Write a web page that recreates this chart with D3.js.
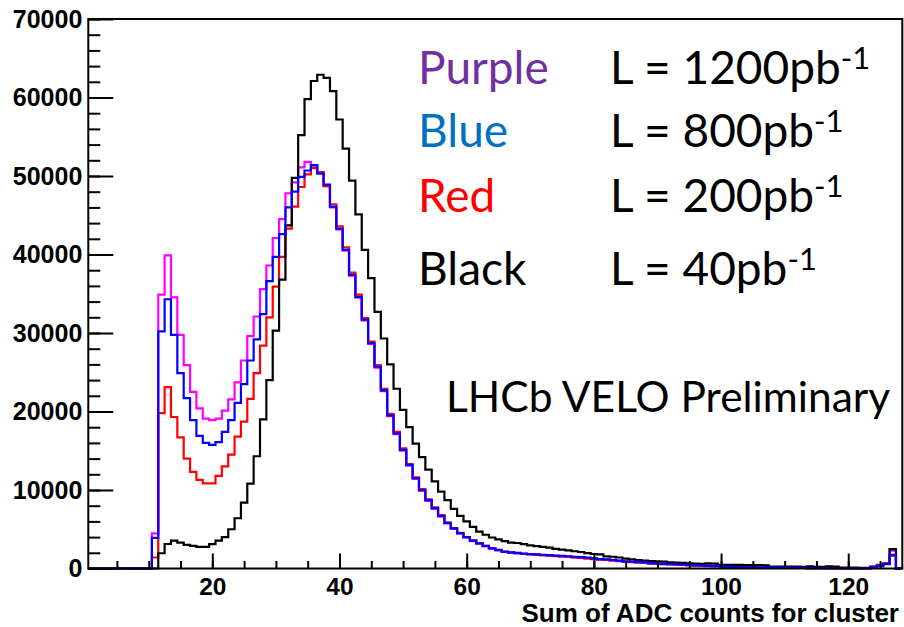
<!DOCTYPE html>
<html>
<head>
<meta charset="utf-8">
<script src="https://cdn.jsdelivr.net/npm/d3@7"></script>
<style>
  body { margin: 0; background: #fff; }
  .tick text { font-family: "Liberation Sans", Arial, sans-serif; font-weight: bold; fill: #000; }
</style>
</head>
<body>
<div id="chart"></div>
<script>
// ADC bins 1..128 (bin k spans k-0.5 .. k+0.5)
const bins = d3.range(1, 129);

const black = [
  0,0,0,0,0,0,0,0,0,0,0,
  1940,3120,3540,3290,3000,2870,2750,2750,3100,
  3540,4000,5000,6400,8400,10800,14300,19000,24000,30300,
  36800,43700,49750,55200,59800,62100,62900,62500,60800,57200,
  53500,49400,45100,40600,37000,32700,29300,26000,22900,20200,
  18000,15900,14200,12600,11100,9800,8700,7600,6700,6000,
  5300,4700,4300,3950,3700,3500,3300,3250,3100,2950,
  2850,2750,2650,2500,2400,2300,2200,2100,1950,1850,
  1800,1550,1500,1400,1250,1150,1080,1000,950,920,
  880,780,740,720,650,620,600,650,620,480,
  470,460,450,440,430,420,410,250,240,240,
  230,230,220,280,220,200,260,250,120,100,
  100,90,90,180,300,550,2480,0
];

const blue = [
  0,0,0,0,0,0,0,0,0,0,
  3900,30200,34300,29750,24900,21700,18900,16900,16000,15750,
  16100,17400,18900,21100,23500,26500,29200,32400,36600,39700,
  42600,46000,48000,49900,50700,51400,50300,48900,46100,43300,
  40600,37400,34600,31700,28700,25700,22700,19500,17200,15100,
  13200,11500,10000,8700,7700,6700,5800,5100,4500,4000,
  3550,3200,2870,2570,2360,2140,2050,1980,1900,1850,
  1800,1750,1700,1650,1600,1560,1500,1450,1400,1300,
  1200,1150,1100,1000,920,880,840,780,680,640,
  600,570,540,500,450,400,380,360,340,320,
  250,180,170,160,160,150,150,140,140,130,
  130,120,120,50,40,40,30,30,30,30,
  20,20,40,200,380,600,1750,0
];

const red = [
  0,0,0,0,0,0,0,0,0,0,
  1400,19800,23100,19300,16700,14000,12300,11300,10850,10850,
  11800,13000,14500,16800,18700,21600,24900,28400,32000,35900,
  39700,43300,46100,48600,50200,51000,50500,48700,46400,43600,
  40900,37700,34900,31900,28900,25900,22900,19700,17400,15300,
  13300,11600,10100,8800,7800,6800,5850,5150,4550,4000,
  3580,3220,2880,2580,2350,2120,2030,1950,1870,1800,
  1750,1700,1650,1600,1550,1500,1420,1380,1300,1220,
  1150,1100,1020,960,880,830,780,720,650,600,
  570,540,500,470,420,380,350,330,300,280,
  220,170,150,140,140,130,130,120,120,110,
  110,100,100,40,30,30,30,20,20,20,
  10,10,20,230,450,660,1600,0
];

const magenta = [
  0,0,0,0,0,0,0,0,0,0,
  4480,34900,39900,34550,29750,25900,22500,20400,19100,18900,
  19100,20100,21550,23700,26500,29600,32100,35600,38600,42100,
  44500,47800,49200,51100,51800,51300,50500,48700,46000,43200,
  40500,37300,34500,31600,28600,25600,22600,19400,17100,15000,
  13100,11400,9900,8600,7600,6600,5750,5050,4450,3950,
  3500,3150,2830,2530,2320,2100,2000,1930,1850,1790,
  1740,1690,1640,1580,1530,1480,1400,1350,1280,1200,
  1130,1080,1000,940,860,810,760,700,630,590,
  550,520,480,450,400,360,330,310,280,260,
  200,150,130,120,120,110,110,100,100,90,
  90,80,80,20,10,10,10,10,10,10,
  10,10,10,200,400,620,2270,0
];

const yMajor = d3.range(0, 70001, 10000);
const yMinor = d3.range(0, 70001, 2000);
const xMajor = [20, 40, 60, 80, 100, 120];
const xMinor = d3.range(5, 128, 5);

const legendNames = ['Purple', 'Blue', 'Red', 'Black'];
const legendLumi = ['L = 1200pb', 'L = 800pb', 'L = 200pb', 'L = 40pb'];
const legendColors = ['#7030a0', '#0070c0', '#ff0000', '#000000'];

const W = 904, H = 627;
const frame = { left: 88.3, right: 902.3, top: 19, bottom: 568.5 };

const svg = d3.select('#chart').append('svg')
  .attr('width', W)
  .attr('height', H);

const x = d3.scaleLinear().domain([0.5, 128.5]).range([frame.left, frame.right]);
const y = d3.scaleLinear().domain([0, 70000]).range([frame.bottom, frame.top]);

// histogram outlines, drawn as steps
const line = d3.line()
  .x(d => x(d[0]))
  .y(d => y(d[1]))
  .curve(d3.curveStepAfter);

function stepPoints(vals) {
  const pts = bins.map((b, i) => [b - 0.5, vals[i]]);
  pts.push([128.5, vals[vals.length - 1]]);
  return pts;
}

const series = [
  { vals: magenta, color: '#ff00ff' },
  { vals: red, color: '#ff0000' },
  { vals: black, color: '#000000' },
  { vals: blue, color: '#0000ff' }
];

svg.append('g').selectAll('path')
  .data(series)
  .join('path')
  .attr('fill', 'none')
  .attr('stroke', d => d.color)
  .attr('stroke-width', 2.2)
  .attr('d', d => line(stepPoints(d.vals)));

// axes, ROOT style: ticks pointing into the frame
const yAxis = svg.append('g')
  .attr('transform', `translate(${frame.left},0)`)
  .call(d3.axisLeft(y).tickValues(yMajor).tickSize(-25).tickPadding(6).tickFormat(d3.format('d')));
yAxis.select('.domain').remove();
yAxis.selectAll('.tick text').style('font-size', '25px');

const yAxisMinor = svg.append('g')
  .attr('transform', `translate(${frame.left},0)`)
  .call(d3.axisLeft(y).tickValues(yMinor).tickSize(-12).tickFormat(''));
yAxisMinor.select('.domain').remove();

const xAxis = svg.append('g')
  .attr('transform', `translate(0,${frame.bottom})`)
  .call(d3.axisBottom(x).tickValues(xMajor).tickSize(-15).tickPadding(9).tickFormat(d3.format('d')));
xAxis.select('.domain').remove();
xAxis.selectAll('.tick text').style('font-size', '24.5px');

const xAxisMinor = svg.append('g')
  .attr('transform', `translate(0,${frame.bottom})`)
  .call(d3.axisBottom(x).tickValues(xMinor).tickSize(-7.5).tickFormat(''));
xAxisMinor.select('.domain').remove();

svg.selectAll('.tick line').attr('stroke', '#000').attr('stroke-width', 2);

// frame
svg.append('rect')
  .attr('x', frame.left)
  .attr('y', frame.top)
  .attr('width', frame.right - frame.left)
  .attr('height', frame.bottom - frame.top)
  .attr('fill', 'none')
  .attr('stroke', '#000')
  .attr('stroke-width', 2);

svg.append('text')
  .attr('x', 899)
  .attr('y', 622)
  .attr('text-anchor', 'end')
  .style('font-family', '"Liberation Sans", Arial, sans-serif')
  .style('font-weight', 'bold')
  .style('font-size', '26px')
  .text('Sum of ADC counts for cluster');

// legend text block
const legendY = [84, 147, 212, 285];
const legend = svg.append('g')
  .style('font-family', 'Lato, "Open Sans", sans-serif')
  .style('font-size', '46px');

legendNames.forEach((name, i) => {
  legend.append('text')
    .attr('x', 418)
    .attr('y', legendY[i])
    .attr('fill', legendColors[i])
    .text(name);

  const t = legend.append('text')
    .attr('x', 610)
    .attr('y', legendY[i])
    .attr('fill', '#000');
  t.append('tspan').text(legendLumi[i]);
  t.append('tspan')
    .attr('dy', -15)
    .style('font-size', '31px')
    .text('-1');
});

svg.append('text')
  .attr('x', 446)
  .attr('y', 412)
  .style('font-family', 'Lato, "Open Sans", sans-serif')
  .style('font-size', '42.5px')
  .text('LHCb VELO Preliminary');
</script>
</body>
</html>
